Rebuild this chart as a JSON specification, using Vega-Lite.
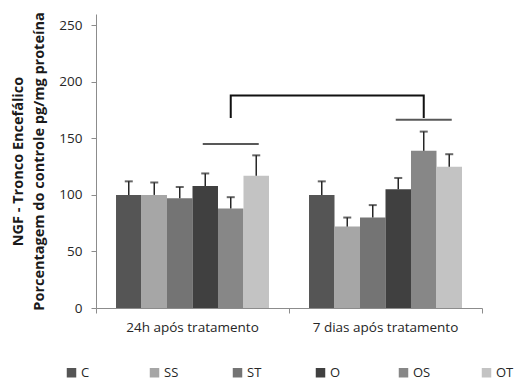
{
  "$schema": "https://vega.github.io/schema/vega-lite/v6.json",
  "width": 386,
  "height": 294,
  "autosize": {"type": "none"},
  "padding": {"left": 96, "top": 14, "right": 33, "bottom": 73},
  "background": "white",
  "config": {
    "font": "Open Sans",
    "view": {"stroke": null},
    "axis": {"grid": false, "domainColor": "#8c8c8c", "tickColor": "#8c8c8c", "labelColor": "#262626", "labelFont": "Open Sans", "labelFontSize": 13.5}
  },
  "datasets": {
    "ngf": [
      {"grupo": "24h após tratamento", "trat": "C", "valor": 100, "sup": 112},
      {"grupo": "24h após tratamento", "trat": "SS", "valor": 100, "sup": 111},
      {"grupo": "24h após tratamento", "trat": "ST", "valor": 97, "sup": 107},
      {"grupo": "24h após tratamento", "trat": "O", "valor": 108, "sup": 119},
      {"grupo": "24h após tratamento", "trat": "OS", "valor": 88, "sup": 98},
      {"grupo": "24h após tratamento", "trat": "OT", "valor": 117, "sup": 135},
      {"grupo": "7 dias após tratamento", "trat": "C", "valor": 100, "sup": 112},
      {"grupo": "7 dias após tratamento", "trat": "SS", "valor": 72, "sup": 80},
      {"grupo": "7 dias após tratamento", "trat": "ST", "valor": 80, "sup": 91},
      {"grupo": "7 dias após tratamento", "trat": "O", "valor": 105, "sup": 115},
      {"grupo": "7 dias após tratamento", "trat": "OS", "valor": 139, "sup": 156},
      {"grupo": "7 dias após tratamento", "trat": "OT", "valor": 125, "sup": 136}
    ],
    "linhas": [
      {"grupo": "24h após tratamento", "trat": "OS", "y": 145},
      {"grupo": "7 dias após tratamento", "trat": "OS", "y": 166.5}
    ],
    "colchete": [
      {"grupo": "24h após tratamento", "trat": "OS", "y": 169, "ordem": 1},
      {"grupo": "24h após tratamento", "trat": "OS", "y": 188, "ordem": 2},
      {"grupo": "7 dias após tratamento", "trat": "OS", "y": 188, "ordem": 3},
      {"grupo": "7 dias após tratamento", "trat": "OS", "y": 169, "ordem": 4}
    ]
  },
  "encoding": {
    "x": {
      "field": "grupo", "type": "nominal",
      "scale": {"domain": ["24h após tratamento", "7 dias após tratamento"], "paddingInner": 0, "paddingOuter": 0},
      "axis": {"title": null, "labelAngle": 0, "labelPadding": 7, "tickSize": 5, "bandPosition": 1, "tickExtra": true}
    },
    "xOffset": {
      "field": "trat", "type": "nominal",
      "scale": {"domain": ["C", "SS", "ST", "O", "OS", "OT"], "paddingInner": 0, "paddingOuter": 0.785}
    }
  },
  "layer": [
    {
      "data": {"name": "ngf"},
      "mark": {"type": "bar"},
      "encoding": {
        "y": {
          "field": "valor", "type": "quantitative",
          "scale": {"domain": [0, 250]},
          "axis": {
            "values": [0, 50, 100, 150, 200, 250],
            "tickSize": 5, "labelPadding": 9,
            "title": ["NGF - Tronco Encefálico", "Porcentagem do controle pg/mg proteína"],
            "titleFont": "Open Sans", "titleFontSize": 14.5, "titleFontWeight": "bold", "titleColor": "#1a1a1a",
            "titlePadding": 12, "titleLineHeight": 21
          }
        },
        "color": {
          "field": "trat", "type": "nominal",
          "scale": {"domain": ["C", "SS", "ST", "O", "OS", "OT"], "range": ["#555555", "#a6a6a6", "#747474", "#404040", "#878787", "#c3c3c3"]},
          "legend": {
            "title": null, "orient": "none", "direction": "horizontal", "columns": 6,
            "legendX": -31, "legendY": 352, "gridAlign": "all", "columnPadding": 49,
            "symbolType": "square", "symbolSize": 90, "symbolStrokeWidth": 0, "labelOffset": 3,
            "labelFont": "Open Sans", "labelFontSize": 13, "labelColor": "#262626"
          }
        }
      }
    },
    {
      "data": {"name": "ngf"},
      "mark": {"type": "rule", "color": "#262626", "strokeWidth": 1.5},
      "encoding": {
        "y": {"field": "valor", "type": "quantitative"},
        "y2": {"field": "sup"}
      }
    },
    {
      "data": {"name": "ngf"},
      "mark": {"type": "tick", "color": "#262626", "size": 8, "thickness": 2},
      "encoding": {
        "y": {"field": "sup", "type": "quantitative"}
      }
    },
    {
      "data": {"name": "linhas"},
      "mark": {"type": "tick", "color": "#111111", "size": 56, "thickness": 2},
      "encoding": {
        "y": {"field": "y", "type": "quantitative"}
      }
    },
    {
      "data": {"name": "colchete"},
      "mark": {"type": "line", "color": "#111111", "strokeWidth": 2, "strokeCap": "square"},
      "encoding": {
        "y": {"field": "y", "type": "quantitative"},
        "order": {"field": "ordem", "type": "quantitative"}
      }
    }
  ]
}
